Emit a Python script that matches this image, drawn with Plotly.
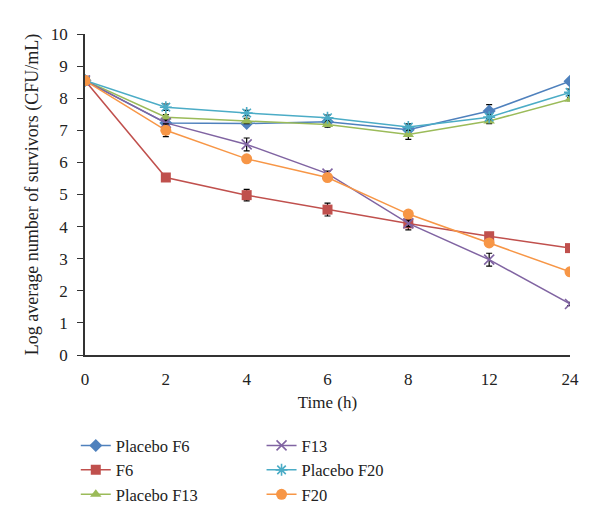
import plotly.graph_objects as go

times = ["0", "2", "4", "6", "8", "12", "24"]
series_names = ["Placebo F6", "F6", "Placebo F13", "F13", "Placebo F20", "F20"]

placebo_f6 = [8.55, 7.23, 7.21, 7.27, 7.02, 7.60, 8.53]
f6 = [8.55, 5.53, 4.98, 4.53, 4.10, 3.70, 3.33]
placebo_f13 = [8.55, 7.41, 7.29, 7.18, 6.87, 7.29, 7.97]
f13 = [8.55, 7.23, 6.56, 5.65, 4.10, 2.97, 1.59]
placebo_f20 = [8.55, 7.72, 7.54, 7.39, 7.10, 7.41, 8.18]
f20 = [8.55, 7.00, 6.11, 5.53, 4.39, 3.49, 2.59]

err_placebo_f6 = [0.05, 0.08, 0.08, 0.08, 0.15, 0.2, 0.05]
err_f6 = [0.05, 0.08, 0.18, 0.2, 0.2, 0.1, 0.1]
err_placebo_f13 = [0.05, 0.08, 0.08, 0.08, 0.15, 0.08, 0.05]
err_f13 = [0.05, 0.08, 0.2, 0.08, 0.1, 0.2, 0.05]
err_placebo_f20 = [0.05, 0.1, 0.08, 0.08, 0.1, 0.08, 0.1]
err_f20 = [0.05, 0.2, 0.05, 0.08, 0.05, 0.05, 0.05]

values = [placebo_f6, f6, placebo_f13, f13, placebo_f20, f20]
errors = [err_placebo_f6, err_f6, err_placebo_f13, err_f13, err_placebo_f20, err_f20]
colors = ["#4F81BD", "#C0504D", "#9BBB59", "#8064A2", "#4BACC6", "#F79646"]
symbols = ["diamond", "square", "triangle-up", "x-thin-open", "asterisk-open", "circle"]
sizes = [10, 10, 10, 10, 10, 11]

fig = go.Figure()
for i, (name, v, e, c, s, sz) in enumerate(zip(series_names, values, errors, colors, symbols, sizes)):
    marker = dict(color=c, symbol=s, size=sz)
    if s.endswith("-open"):
        marker["line"] = dict(color=c, width=1.6)
    fig.add_trace(go.Scatter(
        x=times, y=v, name=name, mode="lines+markers",
        line=dict(color=c, width=1.5),
        marker=marker,
        error_y=dict(type="data", array=e, visible=True, color="black", thickness=1.2, width=3),
        legend="legend" if i < 3 else "legend2",
    ))

font_family = "Liberation Serif"
fig.update_layout(
    width=600, height=527,
    margin=dict(l=77, r=38, t=26, b=180),
    paper_bgcolor="white", plot_bgcolor="white",
    font=dict(family=font_family, size=16, color="#222"),
    xaxis=dict(
        type="category", range=[0, 6], showgrid=False, zeroline=False,
        showline=True, linecolor="#333", linewidth=2, ticks="",
        ticklabelstandoff=8,
        title=dict(text="Time (h)", standoff=8, font=dict(size=17)),
        tickfont=dict(size=17),
    ),
    yaxis=dict(
        range=[0, 10], dtick=1, showgrid=False, zeroline=False,
        showline=True, linecolor="#333", linewidth=1.5, ticks="outside",
        ticklen=6, tickcolor="#333", ticklabelstandoff=6,
        title=dict(text="Log average number of survivors (CFU/mL)", standoff=8, font=dict(size=18)),
        tickfont=dict(size=17),
    ),
    legend=dict(x=-0.019, y=-0.228, xanchor="left", yanchor="top",
                font=dict(size=16.5), tracegroupgap=0, itemwidth=30,
                bgcolor="rgba(0,0,0,0)"),
    legend2=dict(x=0.364, y=-0.228, xanchor="left", yanchor="top",
                 font=dict(size=16.5), tracegroupgap=0, itemwidth=30,
                 bgcolor="rgba(0,0,0,0)"),
    showlegend=True,
)

fig.write_html("out.html")
